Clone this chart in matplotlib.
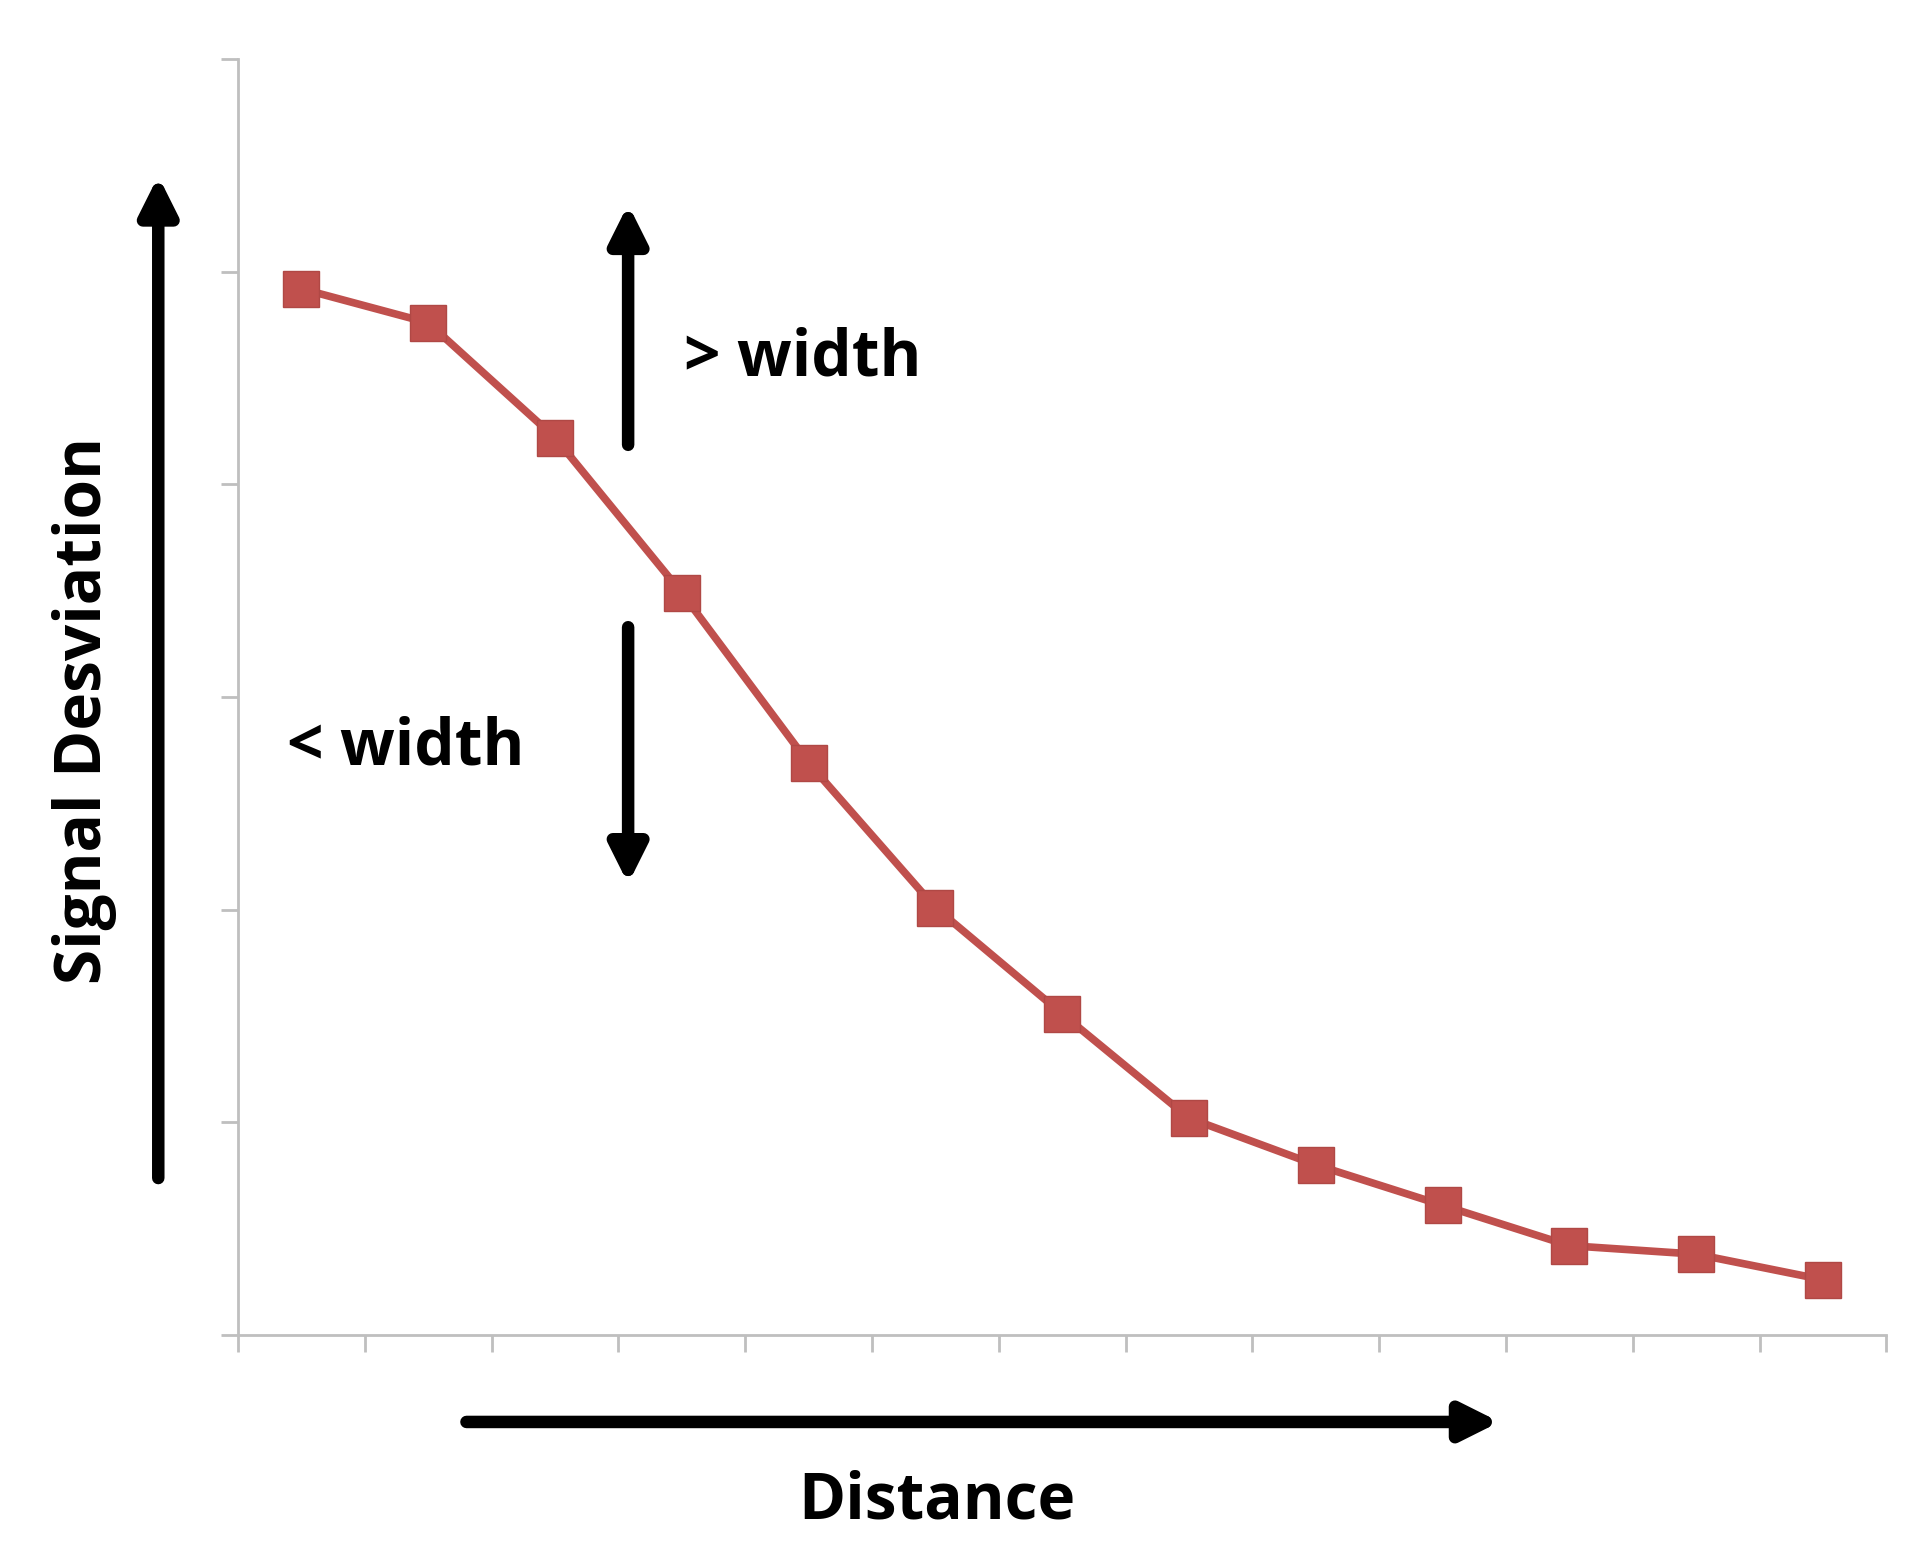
import matplotlib.pyplot as plt
from matplotlib.patches import FancyArrowPatch

# Values (y axis ticks 0..6, 13 points)
positions = list(range(13))
deviation = [4.92, 4.76, 4.22, 3.49, 2.69, 2.01, 1.51, 1.02, 0.80, 0.61, 0.42, 0.38, 0.26]

plt.rcParams['font.family'] = ['Open Sans', 'DejaVu Sans']

fig = plt.figure(figsize=(19.19, 15.55), dpi=100)
ax = fig.add_axes([0.124, 0.1415, 0.859, 0.8205])

ax.plot(positions, deviation, color="#c0504d", linewidth=5.5, marker="s",
        markersize=26, markerfacecolor="#c0504d", markeredgecolor="#b04845")

ax.set_xlim(-0.5, 12.5)
ax.set_ylim(0, 6)
ax.set_xticks([i - 0.5 for i in range(14)])
ax.set_yticks(range(7))
ax.set_xticklabels([])
ax.set_yticklabels([])
ax.tick_params(direction='out', length=12, width=2, color="#bfbfbf")
for side in ['top', 'right']:
    ax.spines[side].set_visible(False)
for side in ['left', 'bottom']:
    ax.spines[side].set_color("#bfbfbf")
    ax.spines[side].set_linewidth(2)


def fx(x):
    return x / 1552


def fy(y):
    return 1 - y / 1257.6


def arrow(x0, y0, x1, y1):
    fig.add_artist(FancyArrowPatch((fx(x0), fy(y0)), (fx(x1), fy(y1)),
                                   transform=fig.transFigure, arrowstyle='-|>',
                                   mutation_scale=55, linewidth=9, color='black'))


arrow(128, 955, 128, 140)
arrow(375, 1150, 1215, 1150)
arrow(508, 362, 508, 163)
arrow(508, 505, 508, 717)

fig.text(fx(68), fy(575), "Signal Desviation", rotation=90, ha='center', va='center',
         fontsize=46, fontweight='bold')
fig.text(fx(758), fy(1215), "Distance", ha='center', va='center',
         fontsize=46, fontweight='bold')
fig.text(fx(553), fy(290), "> width", ha='left', va='center',
         fontsize=46, fontweight='bold')
fig.text(fx(232), fy(605), "< width", ha='left', va='center',
         fontsize=46, fontweight='bold')

fig.savefig("out.png", dpi=100)
